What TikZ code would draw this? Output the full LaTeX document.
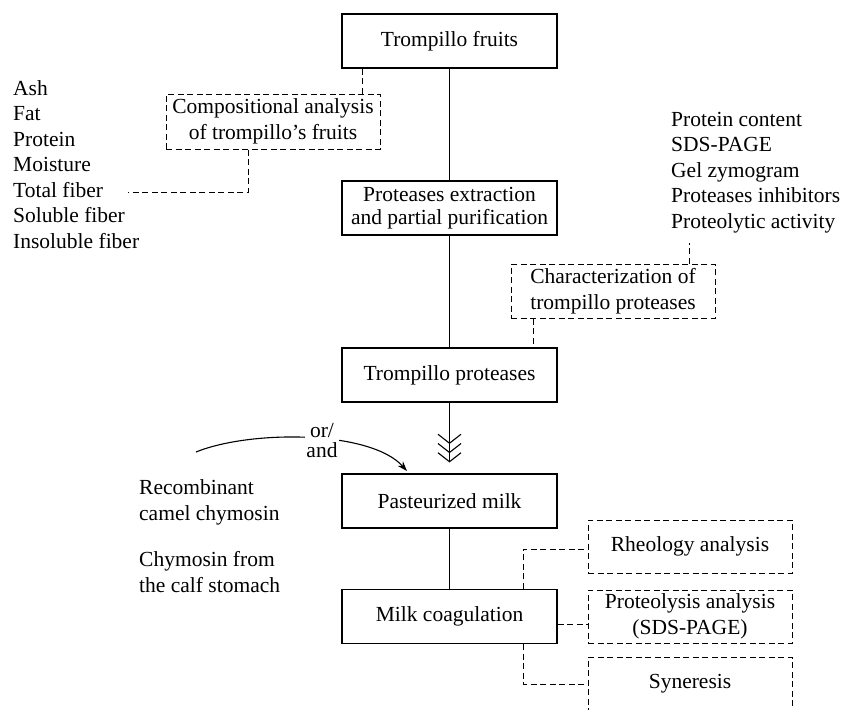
\documentclass[tikz,border=0pt]{standalone}
\usepackage{fontspec}
\setmainfont{Liberation Serif}
\usetikzlibrary{arrows.meta,calc}
\begin{document}
\begin{tikzpicture}[x=1pt,y=-1pt,
  font=\fontsize{21.5}{25.5}\selectfont,
  mainbox/.style={draw, line width=1.1pt, minimum width=215pt, minimum height=54pt, inner sep=0pt, align=center},
  dbox/.style={draw, dash pattern=on 6pt off 3.5pt, line width=1pt, minimum width=204pt, minimum height=54pt, inner sep=0pt, align=center},
  dline/.style={dash pattern=on 6pt off 3.5pt, line width=1pt},
  sline/.style={line width=1.1pt},
  plain/.style={inner sep=0pt, align=left}]
\clip (0,0) rectangle (845,709);
% main column
\node[mainbox] (fruits) at (449.5,41) {Trompillo fruits};
\node[mainbox, font=\fontsize{21.5}{23}\selectfont] (extract) at (449.5,208) {Proteases extraction\\and partial purification};
\node[mainbox] (prot) at (449.5,375) {Trompillo proteases};
\node[mainbox] (past) at (449.5,501) {Pasteurized milk};
\node[mainbox] (coag) at (449.5,616.5) {Milk coagulation};
% dashed boxes
\node[dbox, minimum width=214pt, minimum height=55pt] (comp) at (273,121.5) {Compositional analysis\\of trompillo’s fruits};
\node[dbox] (char) at (613,291) {Characterization of\\trompillo proteases};
\node[dbox, minimum height=53pt] (rheo) at (690,546.5) {Rheology analysis};
\node[dbox, minimum height=53pt] (proteo) at (690,616.5) {Proteolysis analysis\\(SDS-PAGE)};
\node[dbox] (syn) at (690,684) {Syneresis};
% lists (base anchor = last line's baseline)
\node[plain, anchor=base west] (comps) at (13,248) {Ash\\Fat\\Protein\\Moisture\\Total fiber\\Soluble fiber\\Insoluble fiber};
\node[plain, anchor=base west] (chars) at (671,228) {Protein content\\SDS-PAGE\\Gel zymogram\\Proteases inhibitors\\Proteolytic activity};
\node[plain, anchor=base west] (recomb) at (139,520) {Recombinant\\camel chymosin};
\node[plain, anchor=base west] (calf) at (139,592) {Chymosin from\\the calf stomach};
% helper coordinates
\coordinate (tf) at (128,192);
\coordinate (pa) at (689,243);
\coordinate (cs) at (196,452);
\coordinate (ce) at (407,471);
\coordinate (x362) at (362,0);
\coordinate (x248) at (248,0);
\coordinate (x533) at (533,0);
\coordinate (x523) at (523,0);
\coordinate (y549) at (0,549);
\coordinate (y624) at (0,624);
% solid connectors
\draw[sline] (fruits) -- (extract);
\draw[sline] (extract) -- (prot);
\draw[sline, shorten >=11pt, -{Straight Barb[length=9pt,width=23pt,sep=-1pt]Straight Barb[length=9pt,width=23pt,sep=-1pt]Straight Barb[length=9pt,width=23pt]}] (prot) -- (past);
\draw[sline] (past) -- (coag);
\draw[sline, -{Stealth[length=10pt,width=7pt]}] (cs) .. controls (250,430) and (370,430) .. (ce);
\node[inner sep=1pt, fill=white, align=center, font=\fontsize{21.5}{20}\selectfont] (orand) at (322,441) {or/\\and};
% dashed connectors
\draw[dline] (comp.north -| x362) -- (fruits.south -| x362);
\draw[dline] (comp.south -| x248) |- (tf);
\draw[dline] (char.north -| pa) -- (pa);
\draw[dline] (char.south -| x533) -- (prot.north -| x533);
\draw[dline] (coag.north -| x523) |- (rheo.west |- y549);
\draw[dline] (coag.east |- y624) -- (proteo.west |- y624);
\draw[dline] (coag.south -| x523) |- (syn.west);
\end{tikzpicture}
\end{document}
